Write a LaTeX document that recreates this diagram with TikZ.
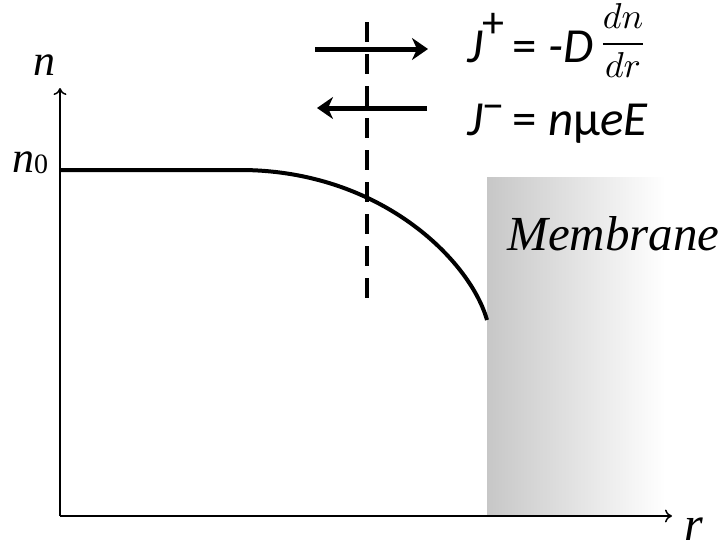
\documentclass[tikz,border=0pt]{standalone}
\usepackage{fontspec}
\newfontfamily\carl{Carlito}
\newfontfamily\tms{Liberation Serif}
\usetikzlibrary{arrows.meta}
\begin{document}
\begin{tikzpicture}[x=1pt,y=-1pt,
  axis/.style={line width=1.8pt,-{To[length=7pt,width=13pt,line width=1.5pt]}},
  flux/.style={line width=5pt,-{Stealth[length=16pt,width=22pt,inset=5pt]}},
  profile/.style={line width=4pt},
  divider/.style={line width=3.5pt,dash pattern=on 20pt off 12pt},
  lbl/.style={inner sep=0pt}]
\useasboundingbox (0,0) rectangle (727,552);
% membrane
\shade[left color=black!22,right color=white] (487,177) rectangle (665,516);
% axes
\coordinate (O) at (60,516);
\coordinate (ytip) at (60,88);
\coordinate (xtip) at (672,516);
\draw[axis] (O) -- (ytip);
\draw[axis] (O) -- (xtip);
% profile
\coordinate (p0) at (60,170);
\coordinate (p1) at (240,170);
\coordinate (p2) at (487,320);
\draw[profile] (p0) -- (p1) .. controls (380,170) and (470,260) .. (p2);
% dashed divider
\coordinate (dtop) at (367,22);
\coordinate (dbot) at (367,305);
\draw[divider] (dtop) -- (dbot);
% flux arrows
\coordinate (a1) at (315,49);
\coordinate (a2) at (428,49);
\draw[flux] (a1) -- (a2);
\coordinate (b1) at (427,108);
\coordinate (b2) at (317,108);
\draw[flux] (b1) -- (b2);
% labels
\node[lbl,anchor=base] (nlab) at (44,75) {\fontsize{44}{46}\selectfont\tms\itshape n};
\node[lbl,anchor=base west] (n0) at (12,172) {\fontsize{44}{46}\selectfont\tms\itshape n\upshape\fontsize{28}{28}\selectfont\raisebox{-1pt}{0}};
\node[lbl,anchor=base west] (rlab) at (684,540) {\fontsize{48}{48}\selectfont\tms\itshape r};
\node[lbl,anchor=base west] (mem) at (507,250) {\fontsize{49}{49}\selectfont\tms\itshape Membrane};
\node[lbl,anchor=base west] (Jp) at (467,62) {\fontsize{49}{49}\selectfont\carl\itshape J\raisebox{25pt}{\fontsize{44}{44}\selectfont\upshape +}\,\upshape= \itshape-D};
\node[lbl,anchor=base] (frac) at (623,53) {\scalebox{3.6}{$\displaystyle\frac{dn}{dr}$}};
\node[lbl,anchor=base west] (Jm) at (467,135) {\fontsize{49}{49}\selectfont\carl\itshape J\raisebox{15pt}{\fontsize{44}{44}\selectfont\upshape −}\,\upshape= \itshape n{\upshape μ}eE};
\end{tikzpicture}
\end{document}
